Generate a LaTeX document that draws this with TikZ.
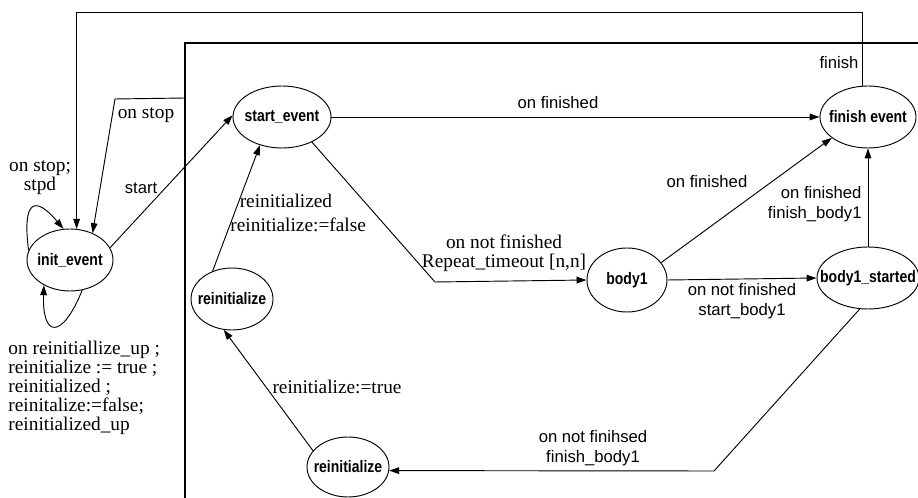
\documentclass[tikz,border=0pt]{standalone}
\usepackage{fontspec}
\setmainfont{Liberation Serif}
\setsansfont{Liberation Sans}
\newfontfamily\narrowsans{Liberation Sans}[FakeStretch=0.84]
\usepackage{tikz}
\usetikzlibrary{shapes, arrows.meta}

% state names in condensed bold, kept out of the ellipse sizing
\newcommand{\st}[1]{\makebox[0pt]{\narrowsans\bfseries\fontsize{12.5}{14}\selectfont #1}}

\begin{document}
\begin{tikzpicture}[x=0.75pt,y=-0.75pt,>={Triangle[length=7.5pt,width=5pt]},
      line width=0.7pt,
      state node/.style={ellipse,draw,inner sep=0pt,minimum height=46.5pt},
      sans label/.style={font=\sffamily\fontsize{12.5}{15}\selectfont,align=center,inner sep=0pt},
      serif label/.style={font=\fontsize{14.5}{14.25}\selectfont,align=center,inner sep=0pt}]

    \useasboundingbox (0,0) rectangle (918,498);

    % frame round the inner states
    \draw[line width=0.9pt] (918,43) -- (185,43) -- (185,498);

    \node[state node,minimum width=64.5pt] (init) at (70,260) {\st{init\_event}};
    \node[state node,minimum width=73.5pt] (start) at (282,117) {\st{start\_event}};
    \node[state node,minimum width=72pt] (finish) at (868,117) {\st{finish event}};
    \node[state node,minimum width=60pt,minimum height=48pt] (body1) at (627,280) {\st{body1}};
    \node[state node,minimum width=76.5pt] (started) at (868,278) {\st{body1\_started}};
    \node[state node,minimum width=61.5pt] (reinitA) at (232,299) {\st{reinitialize}};
    \node[state node,minimum width=61.5pt,minimum height=45pt] (reinitB) at (348,467) {\st{reinitialize}};

    \coordinate (stopfrom) at (185,98);
    \coordinate (stopbend) at (115,99);
    \coordinate (repeatbend) at (435,282);
    \coordinate (finbend) at (714,471);

    % transitions
    \draw[->] (finish.100) |- (init.78 |- 0,12) -- (init.78);
    \draw[->] (stopfrom) -- (stopbend) -- (init.50);
    \draw[->] (init.167) .. controls (22,200) and (35,195) .. (init.102);
    \draw[->] (init.-68) .. controls (62,340) and (42,338) .. (init.-136);
    \draw[->] (init.17) -- (start.178);
    \draw[->] (start.east) -- (finish.west);
    \draw[->] (start.-40) -- (repeatbend) -- (body1.west);
    \draw[->] (body1.27) -- (finish.-150);
    \draw[->] (body1.east) -- (started.west);
    \draw[->] (started.north) -- (finish.south);
    \draw[->] (started.-105) -- (finbend) -- (reinitB.-5);
    \draw[->] (reinitB.155) -- (reinitA.-105);
    \draw[->] (reinitA.125) -- (start.-128);

    % labels
    \node[serif label] (lstop) at (146,115) {on stop};
    \node[serif label] (lstpd) at (40,178) {on stop;\\stpd};
    \node[sans label] (lstart) at (141,188) {start};
    \node[sans label] (lfin) at (558,103) {on finished};
    \node[sans label] (lfinish) at (839,63) {finish};
    \node[serif label] (lrepeat) at (504,253) {on not finished\\Repeat\_timeout [n,n]};
    \node[sans label] (lbodyfin) at (707,182) {on finished};
    \node[sans label,align=right,anchor=east] (lfinbody) at (862,204) {on finished\\finish\_body1};
    \node[sans label] (lstartbody) at (742,301) {on not finished\\start\_body1};
    \node[sans label] (lfinihsed) at (593,448) {on not finihsed\\finish\_body1};
    \node[serif label] (ltrue) at (337,387) {reinitialize:=true};
    \node[serif label,align=left,anchor=west] (lfalse) at (230,213) {\hspace{7pt}reinitialized\\[4pt]reinitialize:=false};
    \node[serif label,align=left,anchor=north west] (lreinit) at (8,341)
        {on reinitiallize\_up ;\\reinitialize := true ;\\reinitialized ;\\reinitalize:=false;\\reinitialized\_up};
\end{tikzpicture}
\end{document}
